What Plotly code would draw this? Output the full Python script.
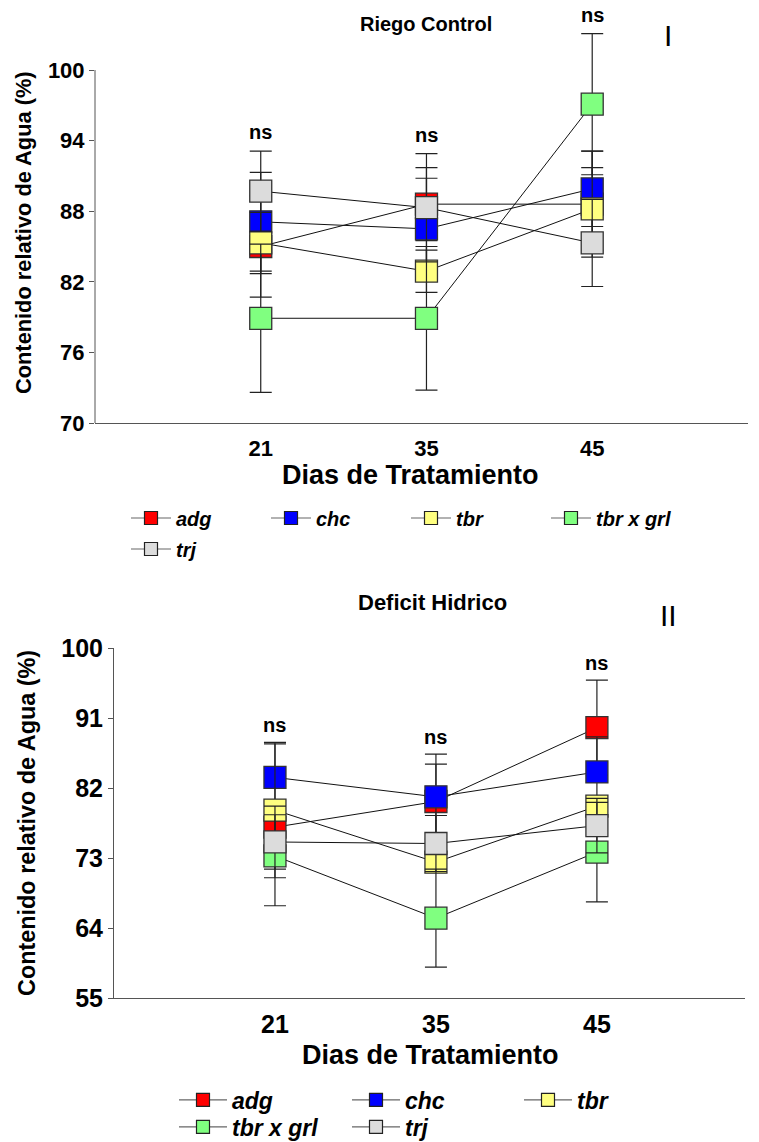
import plotly.graph_objects as go

W, H = 759, 1142

days = ["21", "35", "45"]
genotypes = ["adg", "chc", "tbr", "tbr x grl", "trj"]
colors = ["#FF0000", "#0000FF", "#FFFF80", "#80FF80", "#DCDCDC"]

# Riego Control (panel I)
ctrl_adg = [85.0, 88.6, 88.6]
ctrl_chc = [87.1, 86.5, 89.9]
ctrl_tbr = [85.3, 82.9, 88.2]
ctrl_tbrxgrl = [78.9, 78.9, 97.1]
ctrl_trj = [89.7, 88.3, 85.3]
ctrl_adg_err = [4.3, 3.1, 4.5]
ctrl_chc_err = [4.2, 4.3, 3.2]
ctrl_tbr_err = [2.6, 1.8, 3.5]
ctrl_tbrxgrl_err = [6.3, 6.1, 6.0]
ctrl_trj_err = [3.4, 4.6, 3.7]

# Deficit Hidrico (panel II)
def_adg = [77.0, 80.3, 89.8]
def_chc = [83.4, 80.9, 84.1]
def_tbr = [79.2, 72.5, 79.7]
def_tbrxgrl = [73.3, 65.3, 73.8]
def_trj = [75.1, 74.9, 77.2]
def_adg_err = [2.4, 4.8, 6.1]
def_chc_err = [4.3, 5.5, 4.5]
def_tbr_err = [8.7, 1.3, 1.2]
def_tbrxgrl_err = [6.4, 6.3, 6.4]
def_trj_err = [3.5, 3.6, 3.5]

ticks_top = [70, 76, 82, 88, 94, 100]
ticks_bot = [55, 64, 73, 82, 91, 100]
sig_labels = ["ns", "ns", "ns"]

ctrl_vals = [ctrl_adg, ctrl_chc, ctrl_tbr, ctrl_tbrxgrl, ctrl_trj]
ctrl_errs = [ctrl_adg_err, ctrl_chc_err, ctrl_tbr_err, ctrl_tbrxgrl_err, ctrl_trj_err]
def_vals = [def_adg, def_chc, def_tbr, def_tbrxgrl, def_trj]
def_errs = [def_adg_err, def_chc_err, def_tbr_err, def_tbrxgrl_err, def_trj_err]

FONT = "Liberation Sans, Arial, sans-serif"


def px_x(p):
    return p / W


def px_y(p):
    return 1 - p / H


fig = go.Figure()
legends = {}

# legend entry placement (pixels) for each panel
top_leg_pos = [(126, 518), (266, 518), (406, 518), (546, 518), (126, 549)]
bot_leg_pos = [(174, 1100), (347, 1100), (519, 1100), (174, 1127), (347, 1127)]

panels = [
    ("x", "y", ctrl_vals, ctrl_errs, top_leg_pos, 40, 20, 0),
    ("x2", "y2", def_vals, def_errs, bot_leg_pos, 48, 23, 5),
]

for xa, ya, vals, errs, lpos, iw, lfs, koff in panels:
    for k, (name, col, v, e) in enumerate(zip(genotypes, colors, vals, errs)):
        fig.add_trace(go.Scatter(
            x=days, y=v, name=name, xaxis=xa, yaxis=ya, showlegend=False,
            mode="lines+markers",
            line=dict(color="#111111", width=1),
            marker=dict(symbol="square", size=22, color=col,
                        line=dict(color="#333333", width=1.3)),
            error_y=dict(type="data", array=e, visible=True, color="#222222",
                         thickness=1.2, width=11),
        ))
        idx = koff + k + 1
        lid = "legend" if idx == 1 else f"legend{idx}"
        # legend-only entry (no data drawn)
        fig.add_trace(go.Scatter(
            x=[None], y=[None], name=name, xaxis=xa, yaxis=ya, legend=lid,
            showlegend=True, mode="lines+markers",
            line=dict(color="#666666", width=1.2),
            marker=dict(symbol="square", size=13, color=col,
                        line=dict(color="#222222", width=1.2)),
        ))
        X, Y = lpos[k]
        legends[lid] = dict(x=px_x(X), y=px_y(Y), xanchor="left", yanchor="middle",
                            orientation="h", itemwidth=iw, borderwidth=0,
                            bgcolor="rgba(0,0,0,0)",
                            font=dict(family=FONT, size=lfs, color="black",
                                      weight="bold", style="italic"))

annotations = []
for vals, errs, xr, yref, shift in [(ctrl_vals, ctrl_errs, "x", "y", 6),
                                     (def_vals, def_errs, "x2", "y2", 4)]:
    for i in range(len(days)):
        top = max(v[i] + e[i] for v, e in zip(vals, errs))
        annotations.append(dict(x=i, y=top, xref=xr, yref=yref, text=sig_labels[i],
                                showarrow=False, yanchor="bottom", yshift=shift,
                                font=dict(family=FONT, size=20, color="black", weight="bold")))


def txt(text, x, y, size, bold=True, angle=0):
    annotations.append(dict(text=text, x=px_x(x), y=px_y(y), xref="paper", yref="paper",
                            showarrow=False, xanchor="center", yanchor="middle",
                            textangle=angle,
                            font=dict(family=FONT, size=size, color="black",
                                      weight="bold" if bold else "normal")))


txt("Riego Control", 426, 24, 20)
txt("I", 668, 36, 30, bold=False)
txt("Contenido relativo de Agua (%)", 24, 233, 21.8, angle=-90)
txt("Dias de Tratamiento", 410, 475, 27)

txt("Deficit Hidrico", 432, 602, 22)
txt("II", 668, 615, 30, bold=False)
txt("Contenido relativo de Agua (%)", 27, 823, 23.4, angle=-90)
txt("Dias de Tratamiento", 430, 1055, 27)

tickfont_top = dict(family=FONT, size=22, color="black", weight="bold")
tickfont_bot = dict(family=FONT, size=25, color="black", weight="bold")

fig.update_layout(
    width=W, height=H,
    margin=dict(l=0, r=0, t=0, b=0, autoexpand=False),
    paper_bgcolor="white", plot_bgcolor="white",
    xaxis=dict(domain=[px_x(95), px_x(748)], anchor="y", type="category",
               range=[-1, 2.94], showline=True, linecolor="#555555", linewidth=1,
               ticks="", showgrid=False, zeroline=False, tickfont=tickfont_top,
               ticklabelstandoff=6),
    yaxis=dict(domain=[px_y(423), 1], anchor="x", range=[70, 105.95],
               tickvals=ticks_top, ticks="outside", ticklen=5, tickcolor="#555555",
               showline=False, showgrid=False, zeroline=False, tickfont=tickfont_top),
    xaxis2=dict(domain=[px_x(114), px_x(745)], anchor="y2", type="category",
                range=[-1, 2.92], showline=True, linecolor="#555555", linewidth=1,
                ticks="", showgrid=False, zeroline=False, tickfont=tickfont_bot,
                ticklabelstandoff=4),
    yaxis2=dict(domain=[px_y(998.3), px_y(648.3)], anchor="x2", range=[55, 100],
                tickvals=ticks_bot, ticks="outside", ticklen=5, tickcolor="#555555",
                showline=True, linecolor="#555555", linewidth=1,
                showgrid=False, zeroline=False, tickfont=tickfont_bot),
    showlegend=True,
    annotations=annotations,
    shapes=[dict(type="line", xref="x domain", yref="y", x0=0, x1=0, y0=70, y1=100,
                 line=dict(color="#555555", width=1))],
    **legends,
)

fig.write_html("out.html")
